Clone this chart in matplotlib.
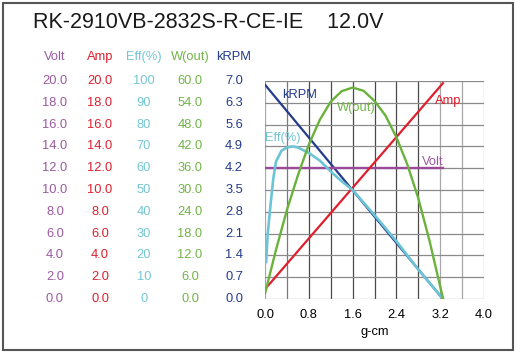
import matplotlib
matplotlib.use('Agg')
import matplotlib.pyplot as plt
from matplotlib.transforms import blended_transform_factory
from matplotlib.patches import Rectangle

plt.rcParams['font.family'] = ['Liberation Sans', 'DejaVu Sans']

title = 'RK-2910VB-2832S-R-CE-IE    12.0V'

# torque axis (g-cm)
x_ticks = [0.0, 0.8, 1.6, 2.4, 3.2, 4.0]

# left value columns
volt_ticks = [0, 2, 4, 6, 8, 10, 12, 14, 16, 18, 20]
amp_ticks = [0, 2, 4, 6, 8, 10, 12, 14, 16, 18, 20]
eff_ticks = [0, 10, 20, 30, 40, 50, 60, 70, 80, 90, 100]
w_ticks = [0, 6, 12, 18, 24, 30, 36, 42, 48, 54, 60]
krpm_ticks = [0.0, 0.7, 1.4, 2.1, 2.8, 3.5, 4.2, 4.9, 5.6, 6.3, 7.0]

# curves
volt_t = [0.0, 3.25]
volt_v = [12.0, 12.0]
amp_t = [0.0, 3.25]
amp_v = [0.9, 19.8]
krpm_t = [0.0, 3.25]
krpm_v = [6.88, 0.0]
w_t = [0.0, 0.2, 0.4, 0.6, 0.8, 1.0, 1.2, 1.4, 1.6, 1.8, 2.0, 2.2, 2.4, 2.6, 2.8, 3.0, 3.25]
w_v = [1.5, 13.5, 24.5, 34.0, 42.5, 49.3, 54.3, 57.2, 58.2, 57.3, 54.5, 50.5, 44.5, 37.0, 27.7, 16.3, 0.2]
eff_t = [0.02, 0.05, 0.1, 0.15, 0.2, 0.3, 0.4, 0.5, 0.6, 0.8, 1.0, 1.2, 1.4, 1.6, 2.0, 2.4, 2.8, 3.0, 3.25]
eff_v = [17, 30, 43, 55, 63, 68, 69.5, 70, 69.5, 67, 63.5, 58.5, 54, 50, 38.5, 26.5, 13.5, 7.5, 0]

c_volt = '#9a4a98'
c_amp = '#df1f2d'
c_eff = '#6cc4d6'
c_w = '#6ab23c'
c_krpm = '#243c8c'
txt_volt = '#9b5aa0'
txt_eff = '#74c6d4'
txt_w = '#72b447'

fig = plt.figure(figsize=(5.16, 3.54), dpi=100)
ax = fig.add_axes([0.5136, 0.1554, 0.4244, 0.6158])
ax.set_xlim(0, 4.0)
ax.set_ylim(0, 7.0)

# grid
for i in range(11):
    xv = i * 0.4
    if i == 1:
        col = '#7a7a7a'
    elif 0 < i < 8:
        col = '#4a4a4a'
    else:
        col = '#a8a8a8'
    ax.axvline(xv, color=col, lw=0.9, zorder=1)
for v in krpm_ticks:
    ax.axhline(v, color='#8a8a8a', lw=0.9, zorder=1)
for s in ax.spines.values():
    s.set_visible(False)
ax.set_yticks([])
ax.set_xticks(x_ticks)
ax.set_xticklabels(['%.1f' % t for t in x_ticks], fontsize=9.3)
ax.tick_params(axis='x', length=0, pad=7)
ax.set_xlabel('g-cm', fontsize=9.3, labelpad=4)

def twin(lim):
    a = ax.twinx()
    a.set_ylim(*lim)
    a.set_yticks([])
    for s in a.spines.values():
        s.set_visible(False)
    return a

ax_v = twin((0, 20))
ax_a = twin((0, 20))
ax_e = twin((0, 100))
ax_w = twin((0, 60))

ax_v.plot(volt_t, volt_v, color=c_volt, lw=1.7, zorder=3)
ax_e.plot(eff_t, eff_v, color=c_eff, lw=1.9, zorder=3)
ax.plot(krpm_t, krpm_v, color=c_krpm, lw=1.6, zorder=4)
ax_a.plot(amp_t, amp_v, color=c_amp, lw=1.6, zorder=4)
ax_w.plot(w_t, w_v, color=c_w, lw=1.7, zorder=4)

# curve labels
fs = 9.3
ax.text(0.31, 6.55, 'kRPM', color=c_krpm, fontsize=fs, ha='left', va='center')
ax_w.text(1.32, 52.5, 'W(out)', color=txt_w, fontsize=fs, ha='left', va='center')
ax_e.text(0.0, 74, 'Eff(%)', color=txt_eff, fontsize=fs, ha='left', va='center')
ax_a.text(3.1, 18.2, 'Amp', color=c_amp, fontsize=fs, ha='left', va='center')
ax_v.text(2.86, 12.6, 'Volt', color=txt_volt, fontsize=fs, ha='left', va='center')

# left value columns
cols = [
    (55 / 516, 'Volt', volt_ticks, '%.1f', ax_v, txt_volt),
    (100 / 516, 'Amp', amp_ticks, '%.1f', ax_a, c_amp),
    (144 / 516, 'Eff(%)', eff_ticks, '%d', ax_e, txt_eff),
    (190 / 516, 'W(out)', w_ticks, '%.1f', ax_w, txt_w),
    (234 / 516, 'kRPM', krpm_ticks, '%.1f', ax, c_krpm),
]
for xf, head, ticks, fmt, a, col in cols:
    tr = blended_transform_factory(fig.transFigure, a.transData)
    for t in ticks:
        a.text(xf, t, fmt % t, transform=tr, color=col, fontsize=fs,
               ha='center', va='center', clip_on=False)
    fig.text(xf, 1 - 57 / 354, head, color=col, fontsize=fs, ha='center', va='center')

fig.text(33 / 516, 1 - 22 / 354, title, fontsize=15.5, ha='left', va='center', color='#1a1a1a')

fig.patches.append(Rectangle((3 / 516, 4 / 354), 510 / 516, 347 / 354, transform=fig.transFigure,
                             fill=False, edgecolor='#555555', lw=1.5))

fig.savefig('out.png', dpi=100)
